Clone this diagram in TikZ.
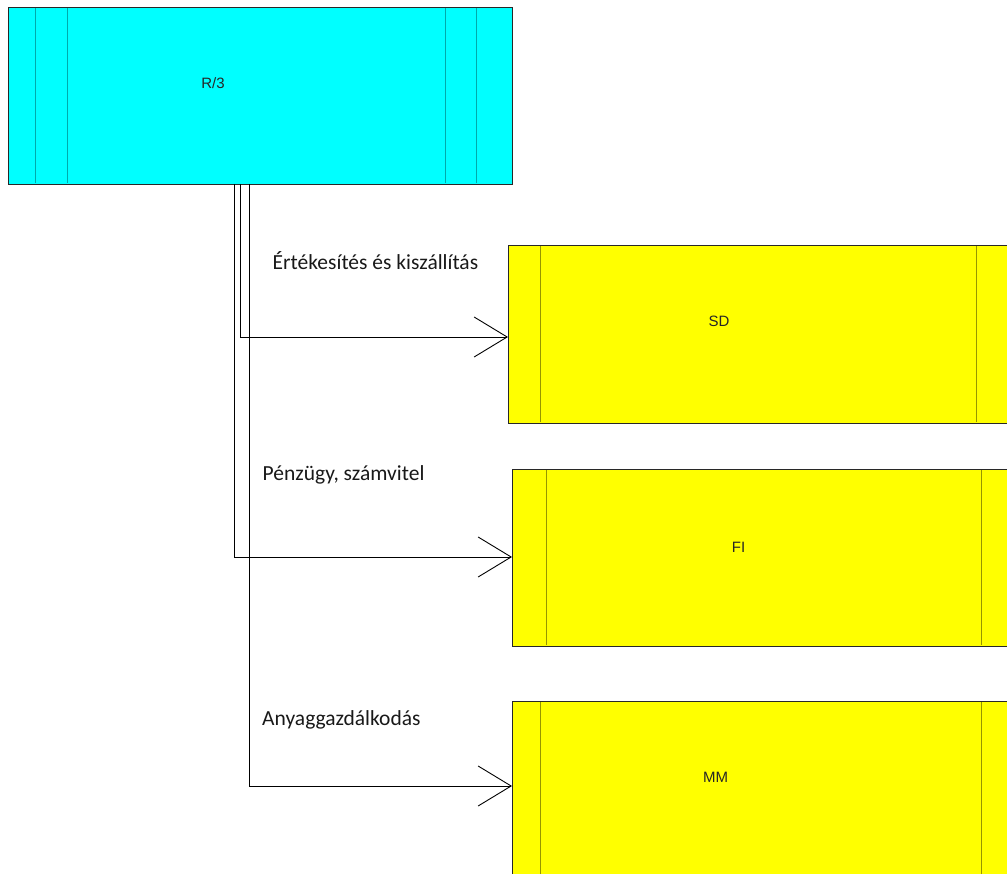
\documentclass[tikz,border=0pt]{standalone}
\usepackage{fontspec}
\setmainfont{Carlito}
\newfontfamily\boxfont{Liberation Sans}
\usetikzlibrary{arrows.meta}
\definecolor{boxcyan}{RGB}{0,255,255}
\definecolor{boxyellow}{RGB}{255,255,0}
\definecolor{cyanline}{RGB}{0,170,170}
\definecolor{yellowline}{RGB}{150,150,0}
\definecolor{border}{RGB}{40,40,40}
\tikzset{
  mod/.style={draw=border, line width=1.3pt, inner sep=0pt, anchor=north west},
  boxlabel/.style={font=\boxfont\fontsize{15}{15}\selectfont, inner sep=0pt, text=black!85},
  flowlabel/.style={font=\fontsize{21.5}{22}\selectfont, inner sep=0pt, anchor=base west, text=black!90},
  conn/.style={draw=black, line width=0.9pt, -{Straight Barb[length=33pt,width=40pt,line width=0.9pt]}},
  divc/.style={draw=cyanline, line width=1pt},
  divy/.style={draw=yellowline, line width=1pt},
}
\begin{document}
\begin{tikzpicture}[x=1pt,y=-1pt]
\useasboundingbox (0,0) rectangle (1007,874);
\clip (0,0) rectangle (1007,874);
% R/3 box
\node[mod, fill=boxcyan, minimum width=504pt, minimum height=177pt] (r3) at (8,7) {};
\draw[divc] (35,8) -- (35,183);
\draw[divc] (67,8) -- (67,183);
\draw[divc] (445,8) -- (445,183);
\draw[divc] (476,8) -- (476,183);
\node[boxlabel] (r3t) at (213,83) {R/3};
% SD box
\node[mod, fill=boxyellow, minimum width=540pt, minimum height=178pt] (sd) at (508,245) {};
\draw[divy] (540,246) -- (540,422);
\draw[divy] (976,246) -- (976,422);
\node[boxlabel] (sdt) at (719,321.5) {SD};
% FI box
\node[mod, fill=boxyellow, minimum width=540pt, minimum height=177pt] (fi) at (512,469) {};
\draw[divy] (546,470) -- (546,645);
\draw[divy] (981,470) -- (981,645);
\node[boxlabel] (fit) at (738.5,547) {FI};
% MM box
\node[mod, fill=boxyellow, minimum width=540pt, minimum height=200pt] (mm) at (512,701) {};
\draw[divy] (540,702) -- (540,880);
\draw[divy] (981,702) -- (981,880);
\node[boxlabel] (mmt) at (715.5,777) {MM};
% connector start points on R/3
\coordinate (s1) at (240,184);
\coordinate (s2) at (234,184);
\coordinate (s3) at (249,184);
\coordinate (e1) at (508,337);
\coordinate (e2) at (512,557);
\coordinate (e3) at (512,786);
\draw[conn] (s1) |- (e1);
\draw[conn] (s2) |- (e2);
\draw[conn] (s3) |- (e3);
% labels
\node[flowlabel] (l1) at (272.5,270) {Értékesítés és kiszállítás};
\node[flowlabel] (l2) at (262.5,481) {Pénzügy, számvitel};
\node[flowlabel] (l3) at (262,725) {Anyaggazdálkodás};
\end{tikzpicture}
\end{document}
